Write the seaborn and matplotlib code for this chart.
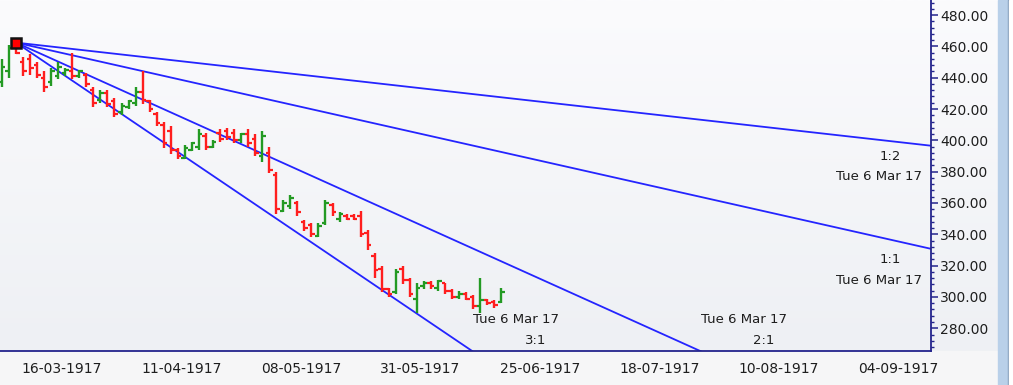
import numpy as np
import pandas as pd
import matplotlib
matplotlib.use("Agg")
import matplotlib.pyplot as plt
import seaborn as sns
from matplotlib.colors import LinearSegmentedColormap
from matplotlib.ticker import MultipleLocator, FixedLocator
from matplotlib.patches import Rectangle

# ---------------- data ----------------
opens = [437, 444, 462, 450, 452, 448, 440, 437, 441, 443, 444, 441, 442, 432, 426, 430, 425, 418,
         421, 424, 431, 425, 417, 410, 406, 394, 389, 394, 396, 403, 396, 405, 406, 405, 400, 404,
         401, 390, 392, 378, 355, 358, 360, 348, 346, 339, 347, 359, 350, 352, 352, 352, 341, 326,
         318, 305, 303, 318, 311, 299, 307, 309, 306, 309, 304, 300, 302, 300, 294, 298, 297, 297]
highs = [452, 461, 463, 453, 455, 450, 444, 446, 450, 446, 456, 445, 443, 434, 432, 432, 427, 424,
         426, 434, 444, 426, 418, 412, 409, 395, 397, 399, 407, 405, 400, 407, 408, 407, 405, 407,
         404, 406, 396, 380, 362, 365, 361, 349, 347, 347, 362, 360, 354, 353, 353, 355, 343, 328,
         320, 306, 318, 320, 312, 309, 310, 310, 311, 309, 305, 304, 303, 301, 312, 299, 298, 306]
lows = [434, 440, 455, 441, 442, 440, 431, 435, 439, 441, 439, 440, 434, 421, 424, 421, 415, 416,
        420, 422, 423, 418, 409, 395, 391, 388, 388, 393, 394, 394, 395, 399, 400, 398, 398, 396,
        390, 386, 379, 353, 354, 356, 352, 342, 338, 338, 346, 352, 348, 349, 349, 338, 330, 312,
        303, 300, 302, 308, 300, 290, 305, 305, 304, 302, 299, 299, 298, 292, 290, 295, 293, 296]
closes = [447, 459, 456, 444, 446, 442, 434, 444, 447, 445, 441, 444, 436, 424, 430, 423, 417, 422,
          425, 431, 426, 420, 411, 398, 394, 390, 395, 398, 404, 396, 399, 401, 402, 400, 404, 398,
          392, 403, 381, 356, 360, 363, 354, 344, 340, 345, 360, 354, 353, 350, 350, 340, 333, 317,
          305, 302, 316, 311, 302, 306, 309, 307, 310, 304, 300, 302, 299, 294, 298, 296, 295, 303]

date_labels = ["16-03-1917", "11-04-1917", "08-05-1917", "31-05-1917",
               "25-06-1917", "18-07-1917", "10-08-1917", "04-09-1917"]
y_ticks = [280, 300, 320, 340, 360, 380, 400, 420, 440, 460, 480]

peak_index = 2
peak_price = 462.4
peak_label = "Tue 6 Mar 17"
gann_names = ["1:2", "1:1", "2:1", "3:1"]
gann_ratios = [0.5, 1.0, 2.0, 3.0]
gann_unit = 1.012  # price per bar for the 1:1 line

# ---------------- style ----------------
sns.set_style("white")
plt.rcParams["font.family"] = ["DejaVu Sans"]

navy = "#24248c"
up_col = "#239a23"
dn_col = "#ff1e1e"
line_col = "#2424ff"
txt_col = "#1e1e1e"

W, H = 1013, 385
fig = plt.figure(figsize=(W / 100, H / 100), dpi=100)

# background gradient
bg = fig.add_axes([0, 0, 1, 1], zorder=-10)
bg.axis("off")
grad = np.linspace(0, 1, 256).reshape(-1, 1)
cmap = LinearSegmentedColormap.from_list("bg", ["#fbfbfd", "#eef0f4"])
bg.imshow(grad, aspect="auto", cmap=cmap, extent=[0, 1, 34 / H, 1], origin="upper")
bg.add_patch(Rectangle((0, 0), 1, 34 / H, color="#f6f6f7", transform=bg.transAxes))
bg.add_patch(Rectangle((998 / W, 0), 10 / W, 1, color="#b9d0e9", transform=bg.transAxes))
bg.add_patch(Rectangle((1007.5 / W, 0), 1.5 / W, 1, color="#7d98b8", transform=bg.transAxes))
bg.add_patch(Rectangle((1009 / W, 0), 4 / W, 1, color="#ffffff", transform=bg.transAxes))
bg.set_xlim(0, 1)
bg.set_ylim(0, 1)

ax = fig.add_axes([0, 34 / H, 931 / W, 351 / H])
ax.patch.set_alpha(0)

x = np.arange(len(opens))
o = np.array(opens, float)
h = np.array(highs, float)
l = np.array(lows, float)
c = np.array(closes, float)
cols = [up_col if cc >= oo else dn_col for oo, cc in zip(o, c)]

ax.vlines(x, l, h, colors=cols, lw=1.7, zorder=3)
ax.hlines(o, x - 0.5, x, colors=cols, lw=1.6, zorder=3)
ax.hlines(c, x, x + 0.5, colors=cols, lw=1.6, zorder=3)

xmin, xmax = -0.28, 132.1
ymin, ymax = 265.5, 489.6

for name, r in zip(gann_names, gann_ratios):
    s = r * gann_unit
    df = pd.DataFrame({"x": [peak_index, xmax + 5],
                       "y": [peak_price, peak_price - s * (xmax + 5 - peak_index)]})
    sns.lineplot(data=df, x="x", y="y", ax=ax, color=line_col, lw=1.3, zorder=2)
    y_end = peak_price - s * (xmax - peak_index)
    if y_end >= ymin:
        ax.annotate(name, (xmax, y_end), xytext=(-29, -8), textcoords="offset points",
                    ha="center", va="center", fontsize=9.5, color=txt_col)
        ax.annotate(peak_label, (xmax, y_end), xytext=(-6.5, -22.5), textcoords="offset points",
                    ha="right", va="center", fontsize=9.5, color=txt_col)
    else:
        x_end = peak_index + (peak_price - ymin) / s
        ax.annotate(peak_label, (x_end, ymin), xytext=(0.5, 22.5), textcoords="offset points",
                    ha="left", va="center", fontsize=9.5, color=txt_col)
        ax.annotate(name, (x_end, ymin), xytext=(46, 7.5), textcoords="offset points",
                    ha="center", va="center", fontsize=9.5, color=txt_col)

ax.plot([peak_index], [peak_price], "s", ms=7.5, mfc="#ff0000", mec="#111111", mew=1.8, zorder=6)

ax.set_xlim(xmin, xmax)
ax.set_ylim(ymin, ymax)
ax.set_xlabel("")
ax.set_ylabel("")

for sp in ["left", "top"]:
    ax.spines[sp].set_visible(False)
for sp in ["right", "bottom"]:
    ax.spines[sp].set_visible(True)
    ax.spines[sp].set_color(navy)
    ax.spines[sp].set_linewidth(1.3)

ax.yaxis.tick_right()
ax.set_yticks(y_ticks)
ax.set_yticklabels([f"{v:.2f}" for v in y_ticks])
ax.yaxis.set_minor_locator(MultipleLocator(4))

tick_pos = [8.5 + 17 * k for k in range(len(date_labels))]
ax.set_xticks(tick_pos)
ax.set_xticklabels(date_labels)
ax.xaxis.set_minor_locator(FixedLocator([8.5 + 3.4 * k for k in range(-2, 38)]))

ax.tick_params(axis="both", which="major", colors=navy, labelcolor=txt_col, labelsize=10,
               width=1.1, length=5)
ax.tick_params(axis="both", which="minor", colors=navy, width=1.0, length=2.5)
ax.tick_params(axis="x", which="major", pad=3)
ax.tick_params(axis="y", which="major", pad=1.5)
ax.grid(False)

fig.savefig("out.png", dpi=100)
